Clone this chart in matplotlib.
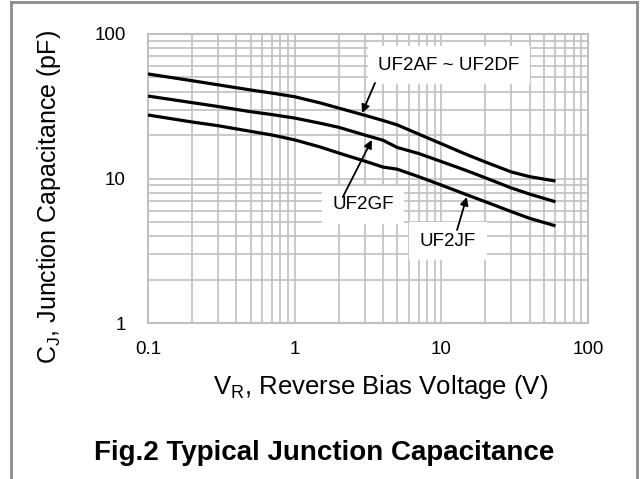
import numpy as np
import matplotlib
matplotlib.use("Agg")
import matplotlib.pyplot as plt
from matplotlib.lines import Line2D
from matplotlib.ticker import LogLocator, NullFormatter, FixedLocator, FixedFormatter

plt.rcParams['font.family'] = ['Liberation Sans', 'DejaVu Sans']

# Datos (V_R en V, C_J en pF)
vr = [0.1, 0.2, 0.3, 0.5, 0.7, 1, 1.5, 2, 3, 4, 5, 7, 10, 15, 20, 30, 40, 60]
c_ad = [52.9, 47.5, 44.5, 41.0, 39.0, 36.8, 33.3, 30.7, 27.4, 25.2, 23.5, 20.3, 17.4, 14.6, 13.0, 11.1, 10.3, 9.6]
c_gf = [37.2, 33.5, 31.5, 29.0, 27.7, 26.2, 24.1, 22.6, 20.0, 18.4, 16.4, 14.9, 13.1, 11.3, 10.1, 8.6, 7.8, 6.9]
c_jf = [27.5, 24.6, 23.2, 21.2, 20.0, 18.5, 16.5, 15.0, 13.2, 12.0, 11.6, 10.3, 9.0, 7.7, 6.9, 5.9, 5.3, 4.7]

xticks = [0.1, 1, 10, 100]
xlabels = ["0.1", "1", "10", "100"]
yticks = [1, 10, 100]
ylabels = ["1", "10", "100"]

fig = plt.figure(figsize=(6.4, 4.79), dpi=100)
ax = fig.add_axes([148/640, 1-323/479, 440/640, 289/479])

grid_c = '#c0c0c0'
for c in [c_ad, c_gf, c_jf]:
    ax.plot(vr, c, color='black', lw=2.3, solid_capstyle='butt', zorder=3)

ax.set_xscale('log')
ax.set_yscale('log')
ax.set_xlim(0.1, 100)
ax.set_ylim(1, 100)
ax.xaxis.set_major_locator(FixedLocator(xticks))
ax.xaxis.set_major_formatter(FixedFormatter(xlabels))
ax.yaxis.set_major_locator(FixedLocator(yticks))
ax.yaxis.set_major_formatter(FixedFormatter(ylabels))
ax.xaxis.set_minor_locator(LogLocator(base=10, subs=np.arange(2, 10)))
ax.yaxis.set_minor_locator(LogLocator(base=10, subs=np.arange(2, 10)))
ax.xaxis.set_minor_formatter(NullFormatter())
ax.yaxis.set_minor_formatter(NullFormatter())
ax.grid(True, which='both', color=grid_c, lw=1.2)
ax.tick_params(which='both', length=0, labelsize=13.5)
ax.tick_params(axis='x', pad=13)
ax.tick_params(axis='y', pad=16)
for s in ax.spines.values():
    s.set_color(grid_c)
    s.set_linewidth(1.5)

# Etiquetas de las curvas
caja = dict(facecolor='white', edgecolor='none', pad=7.5)
ax.text(11.3, 61, "UF2AF ~ UF2DF", ha='center', va='center', fontsize=13.5, bbox=caja, zorder=4)
ax.text(2.92, 6.56, "UF2GF", ha='center', va='center', fontsize=13.5, bbox=caja, zorder=4)
ax.text(11.1, 3.69, "UF2JF", ha='center', va='center', fontsize=13.5, bbox=caja, zorder=4)
flecha = dict(arrowstyle='-|>', color='black', lw=1.3, mutation_scale=12, shrinkA=0, shrinkB=0)
ax.annotate('', xy=(2.88, 28.4), xytext=(3.53, 45.8), arrowprops=flecha, zorder=5)
ax.annotate('', xy=(3.36, 18.5), xytext=(2.13, 7.45), arrowprops=flecha, zorder=5)
ax.annotate('', xy=(14.9, 7.45), xytext=(12.8, 4.4), arrowprops=flecha, zorder=5)

fig.text(49/640, 1-197/479, r"C$_\mathregular{J}$, Junction Capacitance (pF)", rotation=90,
         ha='center', va='center', fontsize=18)
fig.text(381/640, 1-387/479, r"V$_\mathregular{R}$, Reverse Bias Voltage (V)",
         ha='center', va='center', fontsize=18.5)
fig.text(324/640, 1-453/479, "Fig.2 Typical Junction Capacitance",
         ha='center', va='center', fontsize=20, fontweight='bold')

# Marco gris
borde = '#8c8c8c'
fig.add_artist(Line2D([11/640, 11/640], [0, 1-2/479], color=borde, lw=2))
fig.add_artist(Line2D([11/640, 637/640], [1-2/479, 1-2/479], color=borde, lw=2))
fig.add_artist(Line2D([637/640, 637/640], [0, 1-2/479], color=borde, lw=2))

fig.savefig("out.png", dpi=100)
